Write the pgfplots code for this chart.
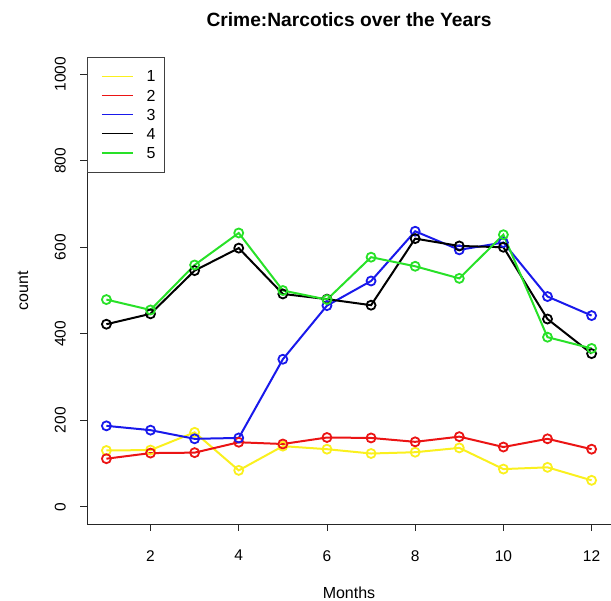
\documentclass[border=0pt]{standalone}
\usepackage{pgfplots}
\pgfplotsset{compat=1.18}
\usepackage{fontspec}
\setmainfont{Liberation Sans}
\definecolor{rgreen}{RGB}{40,225,40}
\definecolor{rred}{RGB}{235,20,20}
\definecolor{rblue}{RGB}{25,25,235}
\definecolor{ryellow}{RGB}{250,240,30}
\begin{document}
\begin{tikzpicture}[x=1bp,y=1bp]
\path[use as bounding box] (0,0) rectangle (611,601);
\begin{axis}[
  at={(87bp,77bp)}, anchor=south west,
  scale only axis, width=524bp, height=467bp,
  xmin=0.56, xmax=12.44, ymin=-40, ymax=1040,
  axis x line*=bottom, axis y line*=left,
  axis line style={line width=0.8bp, black!85},
  xtick={2,4,...,12}, ytick={0,200,...,1000},
  tick align=outside, major tick length=7bp,
  tick style={line width=0.8bp, black!85},
  /pgf/number format/assume math mode=true,
  /pgf/number format/set thousands separator={},
  ticklabel style={font=\fontsize{15.5bp}{18bp}\selectfont, inner sep=0pt},
  xticklabel style={anchor=north},
  yticklabel style={rotate=90, anchor=south},
  xticklabel shift=19bp, yticklabel shift=14bp,
  xlabel={Months}, ylabel={count},
  label style={font=\fontsize{16bp}{19bp}\selectfont, inner sep=0pt},
  xlabel style={at={(axis description cs:0.5,-0.1478)}, anchor=center},
  ylabel style={at={(axis description cs:-0.1221,0.5)}, anchor=center, rotate=0},
  title={Crime:Narcotics over the Years},
  title style={font=\fontsize{19.2bp}{22bp}\selectfont\bfseries, inner sep=0pt, at={(axis description cs:0.5,1.0664)}, anchor=center},
  legend style={at={(axis description cs:0,1)}, anchor=north west,
    draw=black!75, line width=0.8bp, fill=white,
    inner xsep=8.5bp, inner ysep=13.6bp, row sep=8bp, column sep=12.8bp,
    font=\fontsize{16bp}{19bp}\selectfont,
    nodes={inner sep=0pt, text depth=0pt}},
  legend image code/.code={\path (0bp,0bp) (36.2bp,0bp); \draw[#1] (5.2bp,0bp) -- (36.2bp,0bp);},
  every axis plot/.append style={line width=2bp, mark=o, mark size=4.5bp, mark options={line width=1.8bp}},
]
\addplot[color=ryellow, forget plot] coordinates {(1,130) (2,131) (3,172) (4,84) (5,140) (6,133) (7,123) (8,126) (9,136) (10,87) (11,91) (12,61)};
\addplot[color=rred, forget plot] coordinates {(1,111) (2,124) (3,125) (4,149) (5,145) (6,160) (7,159) (8,150) (9,162) (10,138) (11,157) (12,133)};
\addplot[color=rblue, forget plot] coordinates {(1,187) (2,177) (3,157) (4,159) (5,341) (6,465) (7,522) (8,637) (9,594) (10,611) (11,486) (12,442)};
\addplot[color=black, forget plot] coordinates {(1,422) (2,446) (3,546) (4,598) (5,492) (6,480) (7,466) (8,620) (9,603) (10,600) (11,434) (12,354)};
\addplot[color=rgreen, forget plot] coordinates {(1,479) (2,455) (3,559) (4,633) (5,500) (6,479) (7,577) (8,556) (9,528) (10,629) (11,392) (12,366)};
\addlegendimage{draw=ryellow, line width=1.3bp}
\addlegendentry{1}
\addlegendimage{draw=rred, line width=1.6bp}
\addlegendentry{2}
\addlegendimage{draw=rblue, line width=1.3bp}
\addlegendentry{3}
\addlegendimage{draw=black, line width=1.3bp}
\addlegendentry{4}
\addlegendimage{draw=rgreen, line width=1.3bp}
\addlegendentry{5}
\end{axis}
\end{tikzpicture}
\end{document}
